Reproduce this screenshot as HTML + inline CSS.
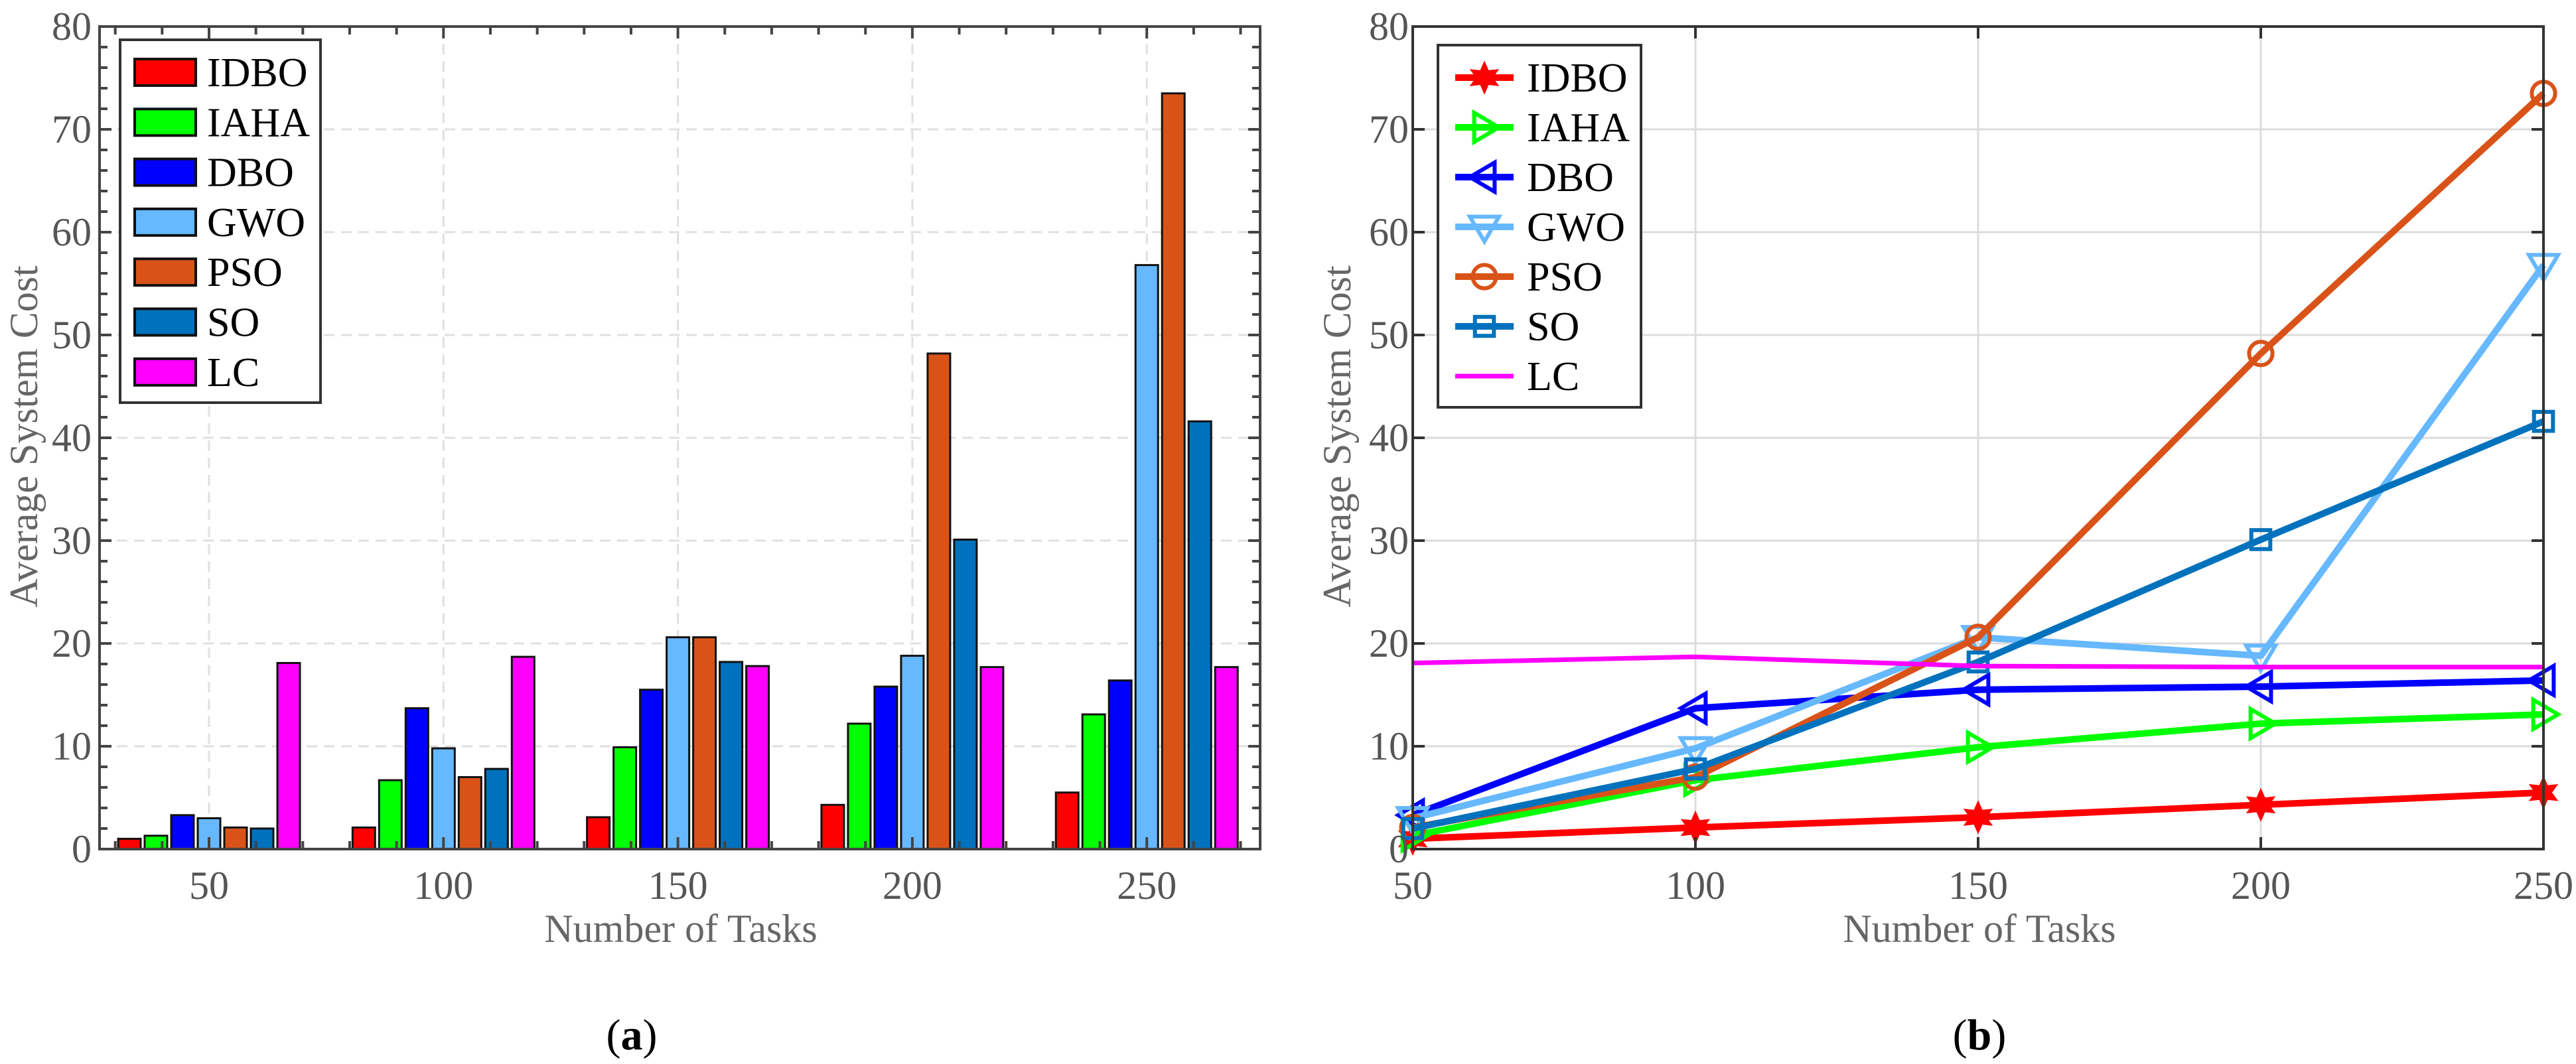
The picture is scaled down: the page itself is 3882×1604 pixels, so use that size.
<!DOCTYPE html>
<html><head><meta charset="utf-8">
<style>
html,body{margin:0;padding:0;background:#fff;}
svg{display:block;}
svg text{font-family:"Liberation Serif","Times New Roman",Times,serif;}
</style></head>
<body>
<svg id="fig" width="3882" height="1604" viewBox="0 0 3882 1604" xmlns="http://www.w3.org/2000/svg">
<g id="chartA"></g>
<g id="chartB"></g>
<text x="952" y="1582" font-size="66" text-anchor="middle" fill="#000">(<tspan font-weight="bold">a</tspan>)</text>
<text x="2983" y="1582" font-size="66" text-anchor="middle" fill="#000">(<tspan font-weight="bold">b</tspan>)</text>
</svg>
<script>
const categories = [50, 100, 150, 200, 250];
const seriesNames = ["IDBO","IAHA","DBO","GWO","PSO","SO","LC"];
const idbo = [1.0, 2.1, 3.1, 4.3, 5.5];
const iaha = [1.3, 6.7, 9.9, 12.2, 13.1];
const dbo = [3.3, 13.7, 15.5, 15.8, 16.4];
const gwo = [3.0, 9.8, 20.6, 18.8, 56.8];
const pso = [2.1, 7.0, 20.6, 48.2, 73.5];
const so = [2.0, 7.8, 18.2, 30.1, 41.6];
const lc = [18.1, 18.7, 17.8, 17.7, 17.7];
const yTicks = [0,10,20,30,40,50,60,70,80];
const xTickLabels = ["50","100","150","200","250"];

const seriesVals = [idbo, iaha, dbo, gwo, pso, so, lc];
const colors = ["#ff0000","#00ff00","#0000ff","#66b8ff","#d95319","#0072bd","#ff00ff"];
const markers = ["star","right","left","down","circle","square","none"];
const NS = "http://www.w3.org/2000/svg";
function mk(parent, tag, attrs){const e=document.createElementNS(NS,tag);for(const k in attrs)e.setAttribute(k,attrs[k]);parent.appendChild(e);return e;}

const TOP=40, BOT=1280;
function yS(v){return BOT - (v/80)*(BOT-TOP);}

/* ---------- Chart A ---------- */
(function(){
const g=document.getElementById('chartA');
const L=150,R=1899;
const x50=315, step=353.3;
function xS(c){return x50 + (c-50)/50*step;}
yTicks.forEach(t=>{ if(t>0&&t<80){
  const l=mk(g,'line',{x1:L,x2:R,y1:yS(t),y2:yS(t),stroke:'#e0e0e0','stroke-width':3,'stroke-dasharray':'16,10'});
  
  }});
categories.forEach(c=>{
  const l=mk(g,'line',{x1:xS(c),x2:xS(c),y1:TOP,y2:BOT,stroke:'#e0e0e0','stroke-width':3,'stroke-dasharray':'16,10'});
  
  });
const pitch=40, bw=34;
seriesVals.forEach((vals,si)=>{
  vals.forEach((v,ci)=>{
    const cx=xS(categories[ci])+(si-3)*pitch;
    const r=mk(g,'rect',{x:cx-bw/2,y:yS(v),width:bw,height:BOT-yS(v),fill:colors[si],stroke:'#111','stroke-width':3});
    
    
  });
});
const box=mk(g,'rect',{x:L,y:TOP,width:R-L,height:BOT-TOP,fill:'none',stroke:'#444','stroke-width':4});


for(let v=0;v<=80;v+=2){
  const len=(v%10===0)?18:12;
  mk(g,'line',{x1:L,x2:L+len,y1:yS(v),y2:yS(v),stroke:'#444','stroke-width':4});
  mk(g,'line',{x1:R,x2:R-len,y1:yS(v),y2:yS(v),stroke:'#444','stroke-width':4});
}
for(let c=30;c<=270;c+=10){
  const len=(c%50===0)?18:12;
  mk(g,'line',{x1:xS(c),x2:xS(c),y1:TOP,y2:TOP+len,stroke:'#444','stroke-width':4});
  mk(g,'line',{x1:xS(c),x2:xS(c),y1:BOT,y2:BOT-len,stroke:'#444','stroke-width':4});
}
yTicks.forEach(t=>{
  const tx=mk(g,'text',{x:L-12,y:yS(t)+20,'font-size':60,'text-anchor':'end',fill:'#555'});
  tx.textContent=t;
  
  });
categories.forEach((c,i)=>{
  const tx=mk(g,'text',{x:xS(c),y:1355,'font-size':60,'text-anchor':'middle',fill:'#555'});
  tx.textContent=xTickLabels[i];
  
  });
const xt=mk(g,'text',{x:1026,y:1420,'font-size':60,'text-anchor':'middle',fill:'#666'});
xt.textContent='Number of Tasks';


const yt=mk(g,'text',{x:0,y:0,'font-size':60,'text-anchor':'middle',fill:'#666',transform:'translate(56,658) rotate(-90)'});
yt.textContent='Average System Cost';


const lg=mk(g,'g',{});


mk(lg,'rect',{x:181,y:60,width:302,height:547,fill:'#fff',stroke:'#333','stroke-width':4});
seriesNames.forEach((n,i)=>{
  const cy=109+i*75.3;
  const e=mk(lg,'g',{});
  
  
  mk(e,'rect',{x:203,y:cy-20,width:92,height:40,fill:colors[i],stroke:'#111','stroke-width':4});
  const t=mk(e,'text',{x:312,y:cy+21,'font-size':62,fill:'#000'});
  t.textContent=n;
});
})();

/* ---------- Chart B ---------- */
(function(){
const g=document.getElementById('chartB');
const L=2129,R=3833;
function xS(c){return L + (c-50)/200*(R-L);}
yTicks.forEach(t=>{ if(t>0&&t<80){
  const l=mk(g,'line',{x1:L,x2:R,y1:yS(t),y2:yS(t),stroke:'#dcdcdc','stroke-width':3});
  
  }});
categories.forEach(c=>{ if(c>50&&c<250){
  const l=mk(g,'line',{x1:xS(c),x2:xS(c),y1:TOP,y2:BOT,stroke:'#dcdcdc','stroke-width':3});
  
  }});
function marker(parent,type,x,y,col,s){
  let e;
  if(type==='star'){
    let p=[];for(let k=0;k<12;k++){const a=k*Math.PI/6-Math.PI/2;const r=(k%2===0)?s:s*0.5;p.push((x+r*Math.cos(a)).toFixed(1)+','+(y+r*Math.sin(a)).toFixed(1));}
    e=mk(parent,'polygon',{points:p.join(' '),fill:col,stroke:col,'stroke-width':3});
  } else if(type==='right'){
    e=mk(parent,'polygon',{points:`${x-s*0.7},${y-s} ${x+s},${y} ${x-s*0.7},${y+s}`,fill:'none',stroke:col,'stroke-width':6});
  } else if(type==='left'){
    e=mk(parent,'polygon',{points:`${x+s*0.7},${y-s} ${x-s},${y} ${x+s*0.7},${y+s}`,fill:'none',stroke:col,'stroke-width':6});
  } else if(type==='down'){
    e=mk(parent,'polygon',{points:`${x-s},${y-s*0.7} ${x+s},${y-s*0.7} ${x},${y+s}`,fill:'none',stroke:col,'stroke-width':6});
  } else if(type==='circle'){
    e=mk(parent,'circle',{cx:x,cy:y,r:s*0.8,fill:'none',stroke:col,'stroke-width':6});
  } else if(type==='square'){
    e=mk(parent,'rect',{x:x-s*0.65,y:y-s*0.65,width:s*1.3,height:s*1.3,fill:'none',stroke:col,'stroke-width':6});
  }
  return e;
}
seriesVals.forEach((vals,si)=>{
  const sg=mk(g,'g',{});
  
  
  const pts=vals.map((v,i)=>xS(categories[i]).toFixed(1)+','+yS(v).toFixed(1)).join(' ');
  const pl=mk(sg,'polyline',{points:pts,fill:'none',stroke:colors[si],'stroke-width':si===6?7:10,'stroke-linejoin':'round'});
  
  
  vals.forEach((v,i)=>{
    const m=marker(sg,markers[si],xS(categories[i]),yS(v),colors[si],22);
    if(m){
      
      
    }
  });
});
const box=mk(g,'rect',{x:L,y:TOP,width:R-L,height:BOT-TOP,fill:'none',stroke:'#333','stroke-width':4});


yTicks.forEach(t=>{
  mk(g,'line',{x1:L,x2:L+18,y1:yS(t),y2:yS(t),stroke:'#333','stroke-width':4});
  mk(g,'line',{x1:R,x2:R-18,y1:yS(t),y2:yS(t),stroke:'#333','stroke-width':4});
  const tx=mk(g,'text',{x:L-6,y:yS(t)+20,'font-size':60,'text-anchor':'end',fill:'#555'});
  tx.textContent=t;
  
  });
categories.forEach((c,i)=>{
  mk(g,'line',{x1:xS(c),x2:xS(c),y1:BOT,y2:BOT-18,stroke:'#333','stroke-width':4});
  mk(g,'line',{x1:xS(c),x2:xS(c),y1:TOP,y2:TOP+18,stroke:'#333','stroke-width':4});
  const tx=mk(g,'text',{x:xS(c),y:1355,'font-size':60,'text-anchor':'middle',fill:'#555'});
  tx.textContent=xTickLabels[i];
  
  });
const xt=mk(g,'text',{x:2983,y:1420,'font-size':60,'text-anchor':'middle',fill:'#666'});
xt.textContent='Number of Tasks';


const yt=mk(g,'text',{x:0,y:0,'font-size':60,'text-anchor':'middle',fill:'#666',transform:'translate(2035,658) rotate(-90)'});
yt.textContent='Average System Cost';


const lg=mk(g,'g',{});


mk(lg,'rect',{x:2167,y:68,width:306,height:546,fill:'#fff',stroke:'#333','stroke-width':4});
seriesNames.forEach((n,i)=>{
  const cy=117+i*75;
  const e=mk(lg,'g',{});
  
  
  mk(e,'line',{x1:2193,x2:2281,y1:cy,y2:cy,stroke:colors[i],'stroke-width':i===6?7:10});
  marker(e,markers[i],2237,cy,colors[i],22);
  const t=mk(e,'text',{x:2301,y:cy+21,'font-size':62,fill:'#000'});
  t.textContent=n;
});
})();
</script>
</body></html>
